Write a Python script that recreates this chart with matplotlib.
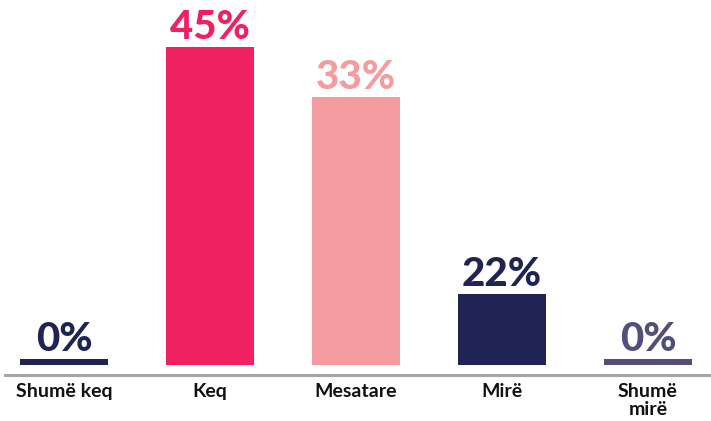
import matplotlib
matplotlib.use("Agg")
import matplotlib.pyplot as plt

categories = ["Shumë keq", "Keq", "Mesatare", "Mirë", "Shumë\nmirë"]
bar_heights = [0.85, 45, 37.9, 10.05, 0.85]
value_labels = ["0%", "45%", "33%", "22%", "0%"]
colors = ["#1f2454", "#ef2160", "#f59ca0", "#1f2454", "#524f7a"]

W, H = 711, 421
fig = plt.figure(figsize=(W / 100, H / 100), dpi=100)

# axes spans pixel x 5..711, y (bottom line) 375..0
ax = fig.add_axes([5 / W, (H - 375) / H, (711 - 5) / W, 375 / H])
px_per_unit_x = 146.0
x0 = 64.0
ax.set_xlim((5 - x0) / px_per_unit_x, (711 - x0) / px_per_unit_x)
px_per_unit_y = 318 / 45
ax.set_ylim(-10 / px_per_unit_y, 375 / px_per_unit_y - 10 / px_per_unit_y)

xs = list(range(len(categories)))
ax.bar(xs, bar_heights, width=88 / px_per_unit_x, color=colors, zorder=2)

for x, h, lab, c in zip(xs, bar_heights, value_labels, colors):
    ax.annotate(lab, (x, h), xytext=(0, 1), textcoords="offset points",
                ha="center", va="bottom", fontsize=29, fontweight=900,
                family="Lato", color=c)

ax.axhline(-10 / px_per_unit_y, color="#a6a6a6", lw=2.2, zorder=3, clip_on=False)

for s in ax.spines.values():
    s.set_visible(False)
ax.set_yticks([])
ax.set_xticks(xs)
ax.set_xticklabels(categories, fontsize=14, fontweight="bold", family="Lato",
                   color="#111111", linespacing=1.05, va="top")
ax.tick_params(axis="x", length=0, pad=6)

fig.savefig("out.png", dpi=100)
